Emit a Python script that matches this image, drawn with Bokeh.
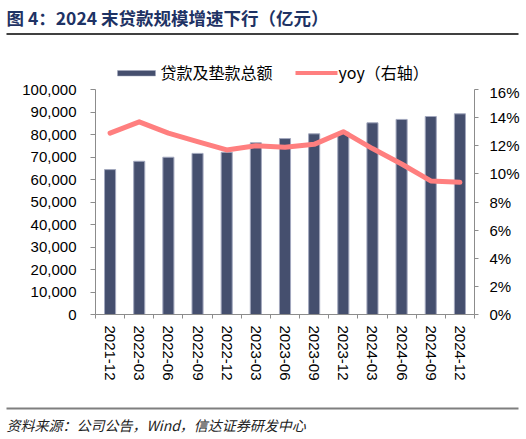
from bokeh.plotting import figure
from bokeh.models import (ColumnDataSource, Range1d, LinearAxis, FixedTicker,
                          NumeralTickFormatter, PrintfTickFormatter)
from bokeh.core.properties import value
from bokeh.embed import file_html
from bokeh.resources import INLINE

periods = ["2021-12", "2022-03", "2022-06", "2022-09", "2022-12", "2023-03", "2023-06",
           "2023-09", "2023-12", "2024-03", "2024-06", "2024-09", "2024-12"]
loans = [64400, 68100, 69900, 71600, 72100, 76300, 78200, 80300, 81000, 85200, 86700, 88000, 89200]
yoy = [12.9, 13.7, 12.9, 12.3, 11.7, 12.0, 11.9, 12.1, 13.0, 11.8, 10.7, 9.5, 9.4]
left_ticks = [0, 10000, 20000, 30000, 40000, 50000, 60000, 70000, 80000, 90000, 100000]
right_ticks = [0, 2, 4, 6, 8, 10, 12, 14, 16]

title_text = "图 4：2024 末贷款规模增速下行（亿元）"
source_text = "资料来源：公司公告，Wind，信达证券研发中心"
bar_name = "贷款及垫款总额"
line_name = "yoy（右轴）"

FONT = "Liberation Sans"
CJK = "Noto Sans CJK SC"
BAR_C = "#454F6E"
BAR_EDGE = "#A3A8BE"
LINE_C = "#FF7F7F"
AX = "#8C8C8C"
W = 526
HEAD_H, MAIN_H, FOOT_H = 83, 312, 44


def blank(height):
    f = figure(width=W, height=height, output_backend="svg", toolbar_location=None,
               x_range=Range1d(0, W), y_range=Range1d(height, 0),
               x_axis_type=None, y_axis_type=None,
               min_border=0, min_border_left=0, min_border_right=0,
               min_border_top=0, min_border_bottom=0)
    f.outline_line_color = None
    f.xgrid.visible = False
    f.ygrid.visible = False
    f.background_fill_color = "white"
    f.border_fill_color = "white"
    return f


# ---- header: title, rule, legend
head = blank(HEAD_H)
head.text(x=[6], y=[17], text=[title_text], text_font=value(CJK), text_font_size="17.5px",
          text_font_style="bold", text_color="#1E3264", text_baseline="middle")
head.segment(x0=[6], x1=[518], y0=[33.5], y1=[33.5], line_color="#000000", line_width=1.5)
head.quad(left=[117], right=[155], top=[70], bottom=[75.5], fill_color=BAR_C,
          line_color=BAR_EDGE, line_width=0.5)
head.text(x=[160], y=[71.5], text=[bar_name], text_font=value(CJK), text_font_size="16px",
          text_color="#000000", text_baseline="middle")
head.segment(x0=[295], x1=[337], y0=[72.5], y1=[72.5], line_color=LINE_C, line_width=4)
head.text(x=[338], y=[71.5], text=[line_name], text_font=value(CJK), text_font_size="16px",
          text_color="#000000", text_baseline="middle")

# ---- main chart
idx = list(range(len(periods)))
src = ColumnDataSource(dict(x=idx, loans=loans, yoy=yoy))

p = figure(width=W, height=MAIN_H, output_backend="svg", toolbar_location=None,
           x_range=Range1d(-0.5, len(periods) - 0.5), y_range=Range1d(0, 100000),
           min_border_left=95, min_border_right=52, min_border_top=6, min_border_bottom=81)
p.extra_y_ranges = {"yoy": Range1d(0, 16)}
p.outline_line_color = None
p.xgrid.visible = False
p.ygrid.visible = False
p.background_fill_color = "white"
p.border_fill_color = "white"

p.vbar(x="x", top="loans", width=0.38, source=src, fill_color=BAR_C,
       line_color=BAR_EDGE, line_width=1)
p.line(x="x", y="yoy", source=src, y_range_name="yoy", line_color=LINE_C,
       line_width=5, line_join="round", line_cap="round")

xa = p.xaxis[0]
xa.ticker = FixedTicker(ticks=idx, minor_ticks=[i - 0.5 for i in range(len(periods) + 1)])
xa.major_label_overrides = {i: s for i, s in enumerate(periods)}
xa.major_label_orientation = "vertical"
xa.major_tick_line_color = None
xa.major_tick_out = 4
xa.major_tick_in = 0
xa.minor_tick_line_color = AX
xa.minor_tick_out = 4
xa.minor_tick_in = 0
xa.axis_line_color = AX
xa.major_label_text_font = FONT
xa.major_label_text_font_size = "15px"
xa.major_label_text_color = "#000000"
xa.major_label_standoff = 7

ya = p.yaxis[0]
ya.ticker = FixedTicker(ticks=left_ticks)
ya.formatter = NumeralTickFormatter(format="0,0")
ya.axis_line_color = AX
ya.major_tick_line_color = AX
ya.major_tick_out = 5
ya.major_tick_in = 0
ya.minor_tick_line_color = None
ya.major_label_text_font = FONT
ya.major_label_text_font_size = "15px"
ya.major_label_text_color = "#000000"
ya.major_label_standoff = 14

ra = LinearAxis(y_range_name="yoy", ticker=FixedTicker(ticks=right_ticks),
                formatter=PrintfTickFormatter(format="%d%%"))
ra.axis_line_color = AX
ra.major_tick_line_color = AX
ra.major_tick_out = 4
ra.major_tick_in = 0
ra.minor_tick_line_color = None
ra.major_label_text_font = FONT
ra.major_label_text_font_size = "15px"
ra.major_label_text_color = "#000000"
ra.major_label_standoff = 11
p.add_layout(ra, "right")

# ---- footer: rule and source note
foot = blank(FOOT_H)
foot.segment(x0=[6], x1=[518], y0=[13], y1=[13], line_color="#7F7F7F", line_width=2)
foot.text(x=[6], y=[29], text=[source_text], text_font=value(CJK), text_font_size="14px",
          text_font_style="italic", text_color="#222222", text_baseline="middle")

# three separate roots, stacked vertically, so that their frames are laid out independently
open("out.html", "w").write(file_html([head, p, foot], INLINE))
